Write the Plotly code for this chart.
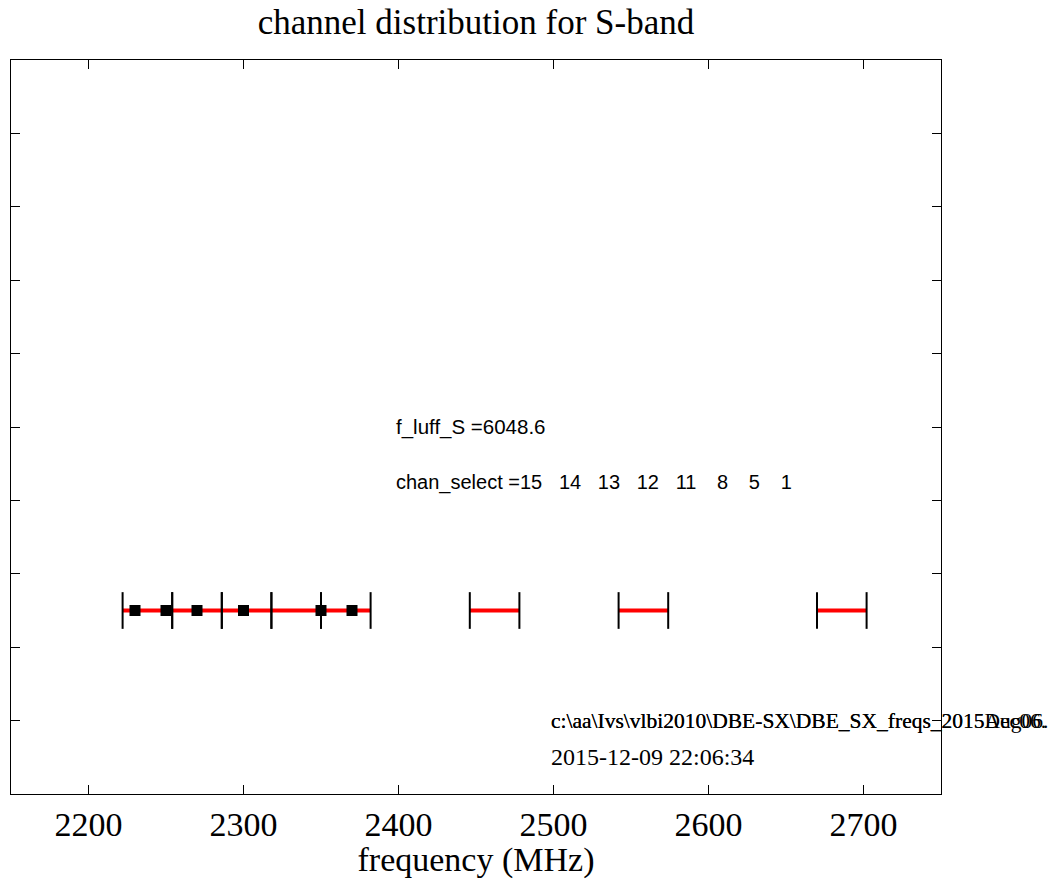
import plotly.graph_objects as go

# ---- data ----
chan_lower = [2222, 2254, 2286, 2318, 2350, 2446, 2542, 2670]   # MHz, lower channel edges
chan_bw = 32                                                   # MHz channel width
chan_level = 2.5
chan_half_height = 0.25
marker_freqs = [2230, 2250, 2270, 2300, 2350, 2370]            # MHz
x_ticks = [2200, 2300, 2400, 2500, 2600, 2700]
chan_select = [15, 14, 13, 12, 11, 8, 5, 1]

f_luff_text = "f_luff_S =6048.6"
path_texts = ["c:\\aa\\Ivs\\vlbi2010\\DBE-SX\\DBE_SX_freqs_2015Dec06.",
              "c:\\aa\\Ivs\\vlbi2010\\DBE-SX\\DBE_SX_freqs_2015Aug06."]
date_text = "2015-12-09 22:06:34"

# chan_select string, right-aligned fields (num2str style)
NB = "\u00a0"
parts = []
for i, n in enumerate(chan_select):
    s = str(n)
    if i > 0:
        parts.append(NB * 3 + ("\u2009" if len(s) == 1 else ""))
    parts.append(s)
chan_select_text = "chan_select =" + "".join(parts)

# ---- build line geometry from data ----
red_x, red_y, edge_x, edge_y = [], [], [], []
for lo in chan_lower:
    hi = lo + chan_bw
    red_x += [lo, hi, None]
    red_y += [chan_level, chan_level, None]
    for e in (lo, hi):
        edge_x += [e, e, None]
        edge_y += [chan_level - chan_half_height, chan_level + chan_half_height, None]

fig = go.Figure()
fig.add_trace(go.Scatter(x=red_x, y=red_y, mode="lines",
                         line=dict(color="#ff0000", width=4), hoverinfo="skip"))
fig.add_trace(go.Scatter(x=edge_x, y=edge_y, mode="lines",
                         line=dict(color="black", width=2), hoverinfo="skip"))
fig.add_trace(go.Scatter(x=marker_freqs, y=[chan_level] * len(marker_freqs), mode="markers",
                         marker=dict(symbol="square", size=11, color="black",
                                     line=dict(width=0))))

serif = "Liberation Serif, Times New Roman, serif"
sans = "Liberation Sans, Arial, sans-serif"

annotations = [
    dict(x=2397, y=5.0, text=f_luff_text, xanchor="left", yanchor="middle",
         showarrow=False, font=dict(family=sans, size=20.5, color="black")),
    dict(x=2397, y=4.25, text=chan_select_text, xanchor="left", yanchor="middle",
         showarrow=False, font=dict(family=sans, size=20, color="black")),
    dict(x=2497, y=0.5, text=date_text, xanchor="left", yanchor="middle",
         showarrow=False, font=dict(family=serif, size=24, color="black")),
]
for t in path_texts:
    annotations.append(dict(x=2497, y=1.0, text=t, xanchor="left", yanchor="middle",
                            showarrow=False, font=dict(family=serif, size=21.5, color="black")))

W, H = 1047, 871   # page body adds an 8px margin
fig.update_layout(
    width=W, height=H,
    paper_bgcolor="white", plot_bgcolor="white",
    showlegend=False,
    margin=dict(l=3, r=114, t=52, b=85, autoexpand=False),
    title=dict(text="channel distribution for S-band", x=0.5, xref="paper",
               y=1 - 14 / H, yref="container", xanchor="center", yanchor="middle",
               font=dict(family=serif, size=35, color="black")),
    xaxis=dict(range=[2150, 2750], tickvals=x_ticks, ticktext=[str(v) for v in x_ticks],
               ticks="inside", ticklen=9, tickwidth=1, tickcolor="black",
               showline=True, linecolor="black", linewidth=1, mirror="ticks",
               showgrid=False, zeroline=False, automargin=False,
               tickfont=dict(family=serif, size=34, color="black"),
               title=dict(text="frequency (MHz)", standoff=5,
                          font=dict(family=serif, size=34, color="black"))),
    yaxis=dict(range=[0, 10], dtick=1, tick0=0, showticklabels=False,
               ticks="inside", ticklen=9, tickwidth=1, tickcolor="black",
               showline=True, linecolor="black", linewidth=1, mirror="ticks",
               showgrid=False, zeroline=False, automargin=False),
    annotations=annotations,
)

fig.write_html("out.html")
